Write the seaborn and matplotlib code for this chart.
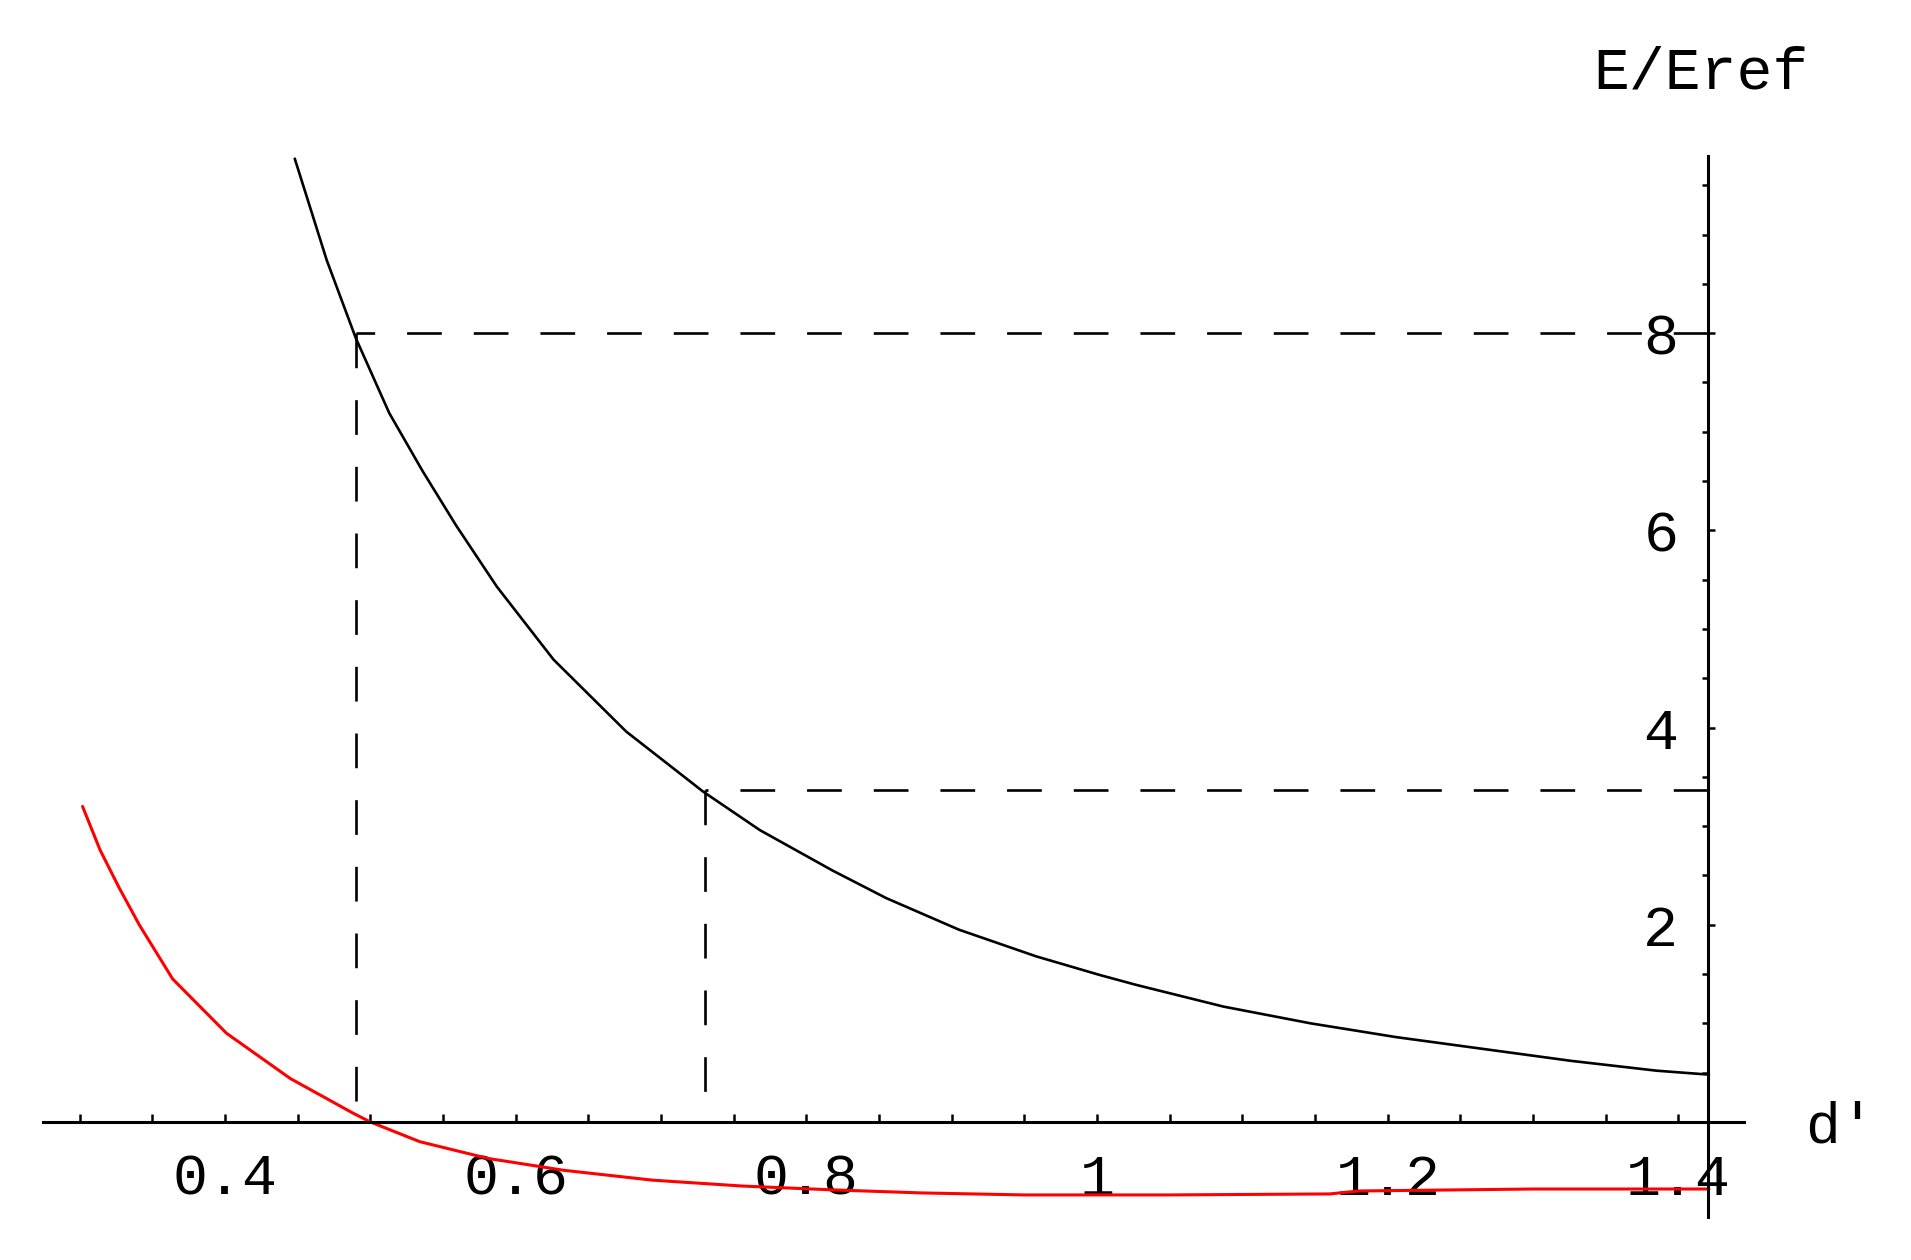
import matplotlib
matplotlib.use("Agg")
import matplotlib.pyplot as plt
import seaborn as sns
import numpy as np
from matplotlib.ticker import FixedLocator

# ---------------- data ----------------
black_x = [0.448, 0.470, 0.490, 0.513, 0.536, 0.559, 0.587, 0.626, 0.676, 0.729,
           0.768, 0.818, 0.855, 0.905, 0.958, 1.002, 1.027, 1.087, 1.147, 1.206,
           1.266, 1.326, 1.385, 1.421]
black_y = [9.77, 8.74, 7.95, 7.19, 6.60, 6.05, 5.43, 4.69, 3.96, 3.35,
           2.96, 2.55, 2.27, 1.95, 1.68, 1.49, 1.39, 1.17, 1.00, 0.86,
           0.74, 0.62, 0.52, 0.48]

red_x = [0.302, 0.314, 0.327, 0.341, 0.364, 0.401, 0.445, 0.488, 0.500, 0.534,
         0.581, 0.633, 0.694, 0.756, 0.820, 0.880, 0.950, 1.050, 1.160, 1.180,
         1.300, 1.421]
red_y = [3.20, 2.76, 2.38, 2.00, 1.45, 0.90, 0.44, 0.09, 0.00, -0.20,
         -0.37, -0.49, -0.59, -0.65, -0.69, -0.72, -0.74, -0.74, -0.73, -0.70,
         -0.68, -0.68]

guide_x = [0.490, 0.730]     # d' where the black curve meets the guides
guide_y = [8.0, 3.37]        # E/Eref levels of the guides

x_major_ticks = [0.4, 0.6, 0.8, 1.0, 1.2, 1.4]
x_tick_labels = ["0.4", "0.6", "0.8", "1", "1.2", "1.4"]
y_major_ticks = [2, 4, 6, 8]
y_tick_labels = ["2", "4", "6", "8"]

x_axis_origin = 1.42          # vertical axis crosses here
x_axis_span = (0.275, 1.445)
y_axis_span = (-0.96, 9.8)

# ---------------- style ----------------
sns.set_style("white")
plt.rcParams["font.family"] = ["Liberation Mono", "DejaVu Sans Mono"]
plt.rcParams["lines.scale_dashes"] = False
plt.rcParams["text.color"] = "black"

fig = plt.figure(figsize=(19.11, 12.60), dpi=100)
ax = fig.add_axes([0, 0, 1, 1])
ax.set_facecolor("white")

sns.lineplot(x=black_x, y=black_y, color="black", linewidth=1.9, ax=ax, sort=False)
sns.lineplot(x=red_x, y=red_y, color="#ff0000", linewidth=2.2, ax=ax, sort=False)

dash = (0, (25, 23))
for gx, gy in zip(guide_x, guide_y):
    ax.plot([x_axis_origin, gx], [gy, gy], color="black", linewidth=1.9,
            linestyle=dash)
    ax.plot([gx, gx], [gy, 0], color="black", linewidth=1.9, linestyle=dash)

ax.set_xlim(0.2452, 1.5600)
ax.set_ylim(-1.400, 11.379)

for s in ["top", "right"]:
    ax.spines[s].set_visible(False)
ax.spines["bottom"].set_position(("data", 0))
ax.spines["left"].set_position(("data", x_axis_origin))
ax.spines["bottom"].set_bounds(*x_axis_span)
ax.spines["left"].set_bounds(*y_axis_span)
for s in ["bottom", "left"]:
    ax.spines[s].set_linewidth(2.2)
    ax.spines[s].set_color("black")
    ax.spines[s].set_zorder(5)

x_minor = [t for t in np.round(np.arange(0.30, 1.4001, 0.05), 2)
           if not np.any(np.isclose(t, x_major_ticks))]
y_minor = [t for t in np.arange(0.5, 9.51, 0.5) if t not in y_major_ticks]

ax.xaxis.set_major_locator(FixedLocator(x_major_ticks))
ax.set_xticklabels(x_tick_labels)
ax.xaxis.set_minor_locator(FixedLocator(x_minor))
ax.yaxis.set_major_locator(FixedLocator(y_major_ticks))
ax.set_yticklabels(y_tick_labels)
ax.yaxis.set_minor_locator(FixedLocator(y_minor))

ax.tick_params(axis="x", which="both", direction="in", length=6, width=1.8,
               bottom=True, top=False, colors="black")
ax.tick_params(axis="x", which="major", pad=22, labelsize=42, labelcolor="black")
ax.tick_params(axis="y", which="major", direction="in", length=5, width=1.8,
               left=True, right=False, pad=21, labelsize=42, colors="black")
ax.tick_params(axis="y", which="minor", direction="out", length=4, width=1.8,
               left=True, right=False, colors="black")

ax.set_xlabel("d'", fontsize=42, color="black")
ax.xaxis.set_label_coords(0.963, 0.105)
ax.xaxis.label.set_va("center")
ax.xaxis.label.set_ha("center")
ax.set_ylabel("E/Eref", fontsize=43, rotation=0, color="black")
ax.yaxis.set_label_coords(0.890, 0.942)
ax.yaxis.label.set_va("center")
ax.yaxis.label.set_ha("center")

fig.savefig("out.png", dpi=100, facecolor="white")
